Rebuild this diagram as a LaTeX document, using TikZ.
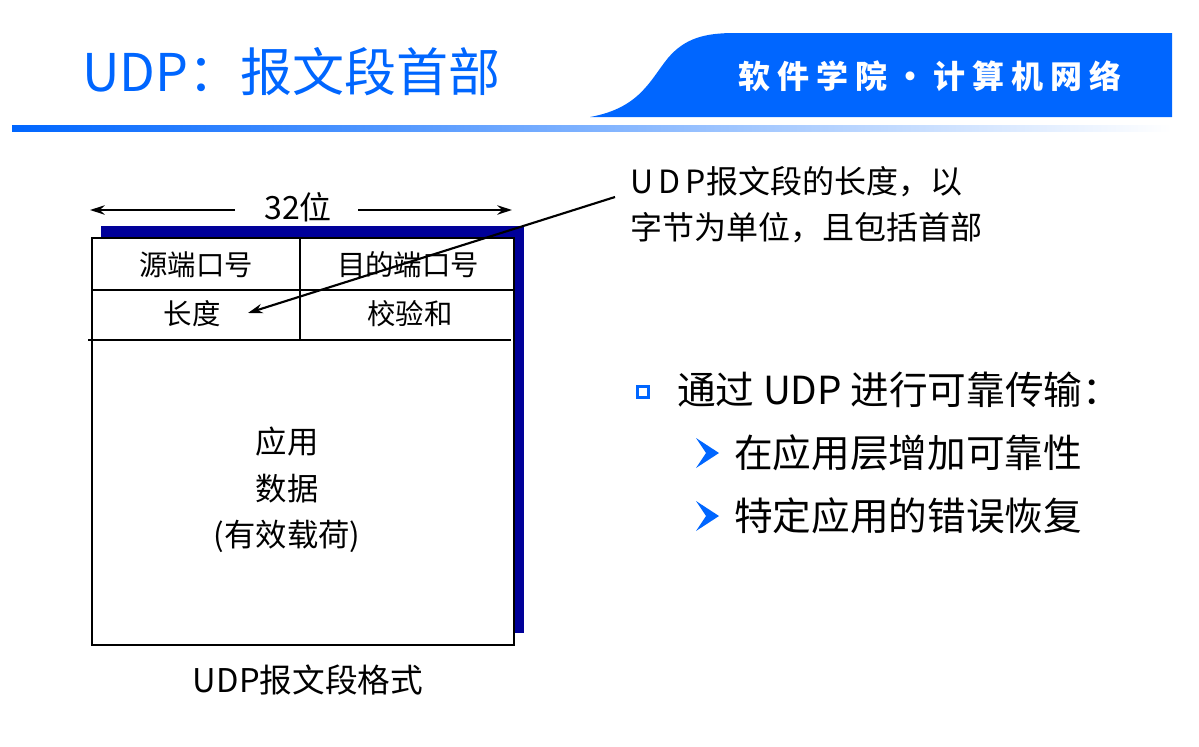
\documentclass[tikz,border=0pt]{standalone}
\usepackage{fontspec}
\setmainfont{Noto Sans CJK SC}
\newfontfamily\bannerfont[LetterSpace=22]{Noto Sans CJK SC}
\usetikzlibrary{arrows.meta}
\definecolor{hblue}{RGB}{0,102,255}
\definecolor{navyshadow}{RGB}{0,0,153}
\begin{document}
\begin{tikzpicture}[x=0.75pt,y=-0.75pt,
  every node/.style={inner sep=0pt,outer sep=0pt},
  tabline/.style={line width=1.8pt,draw=black},
  arr/.style={line width=1.6pt,-{Stealth[length=11pt,width=7pt]}},
  celltext/.style={font=\fontsize{21.3}{25}\selectfont},
  datatext/.style={font=\fontsize{23.5}{28}\selectfont},
  bullettext/.style={font=\fontsize{29}{34}\selectfont,anchor=west},
  annot/.style={font=\fontsize{24}{29}\selectfont,anchor=west}]
\useasboundingbox (0,0) rectangle (1199,746);
% header banner
\fill[hblue] (590,117) .. controls (640,108) and (650,80) .. (668,58)
  .. controls (685,38) and (705,33) .. (735,33) -- (1172,33) -- (1172,117) -- cycle;
\shade[left color=hblue,right color=white] (12,125) rectangle (1172,131);
\node[font=\fontsize{39}{44}\selectfont,text=hblue,anchor=west] (title) at (82,72) {UDP：报文段首部};
\node[font=\bannerfont\bfseries\fontsize{24}{28}\selectfont,text=white,anchor=west] (banner) at (738,76) {软件学院·计算机网络};
% format box
\fill[navyshadow] (101,226) rectangle (524,633);
\filldraw[fill=white,tabline] (92,238) rectangle (514,645);
\draw[tabline] (92,290) -- (514,290);
\draw[tabline] (88,340) -- (511,340);
\draw[tabline] (300,238) -- (300,340);
\node[celltext] (src) at (196,265) {源端口号};
\node[celltext] (dst) at (408,265) {目的端口号};
\node[celltext] (len) at (192,314) {长度};
\node[celltext] (chk) at (410,314) {校验和};
\node[datatext] (d1) at (287,442) {应用};
\node[datatext] (d2) at (287,489) {数据};
\node[datatext] (d3) at (287,536) {(有效载荷)};
\node[font=\fontsize{24.5}{29}\selectfont] (cap) at (308,680) {UDP报文段格式};
% 32 bits
\node[font=\fontsize{24}{29}\selectfont] (w32) at (298,207) {32位};
\coordinate (l1) at (235,210); \coordinate (l2) at (90,210);
\coordinate (r1) at (358,210); \coordinate (r2) at (512,210);
\draw[arr] (l1) -- (l2);
\draw[arr] (r1) -- (r2);
% annotation
\node[annot] (a1) at (630,182) {U\,D\,P报文段的长度，以};
\node[annot] (a2) at (630,228) {字节为单位，且包括首部};
\coordinate (as) at (615,197); \coordinate (ae) at (248,313);
\draw[arr] (as) -- (ae);
% bullets
\draw[hblue,line width=2.2pt] (637.5,386.5) rectangle (648.5,397.5);
\node[bullettext] (b1) at (677,390) {通过 UDP 进行可靠传输：};
\fill[hblue] (696,438) -- (719,453) -- (696,468) -- (706,453) -- cycle;
\node[bullettext] (b2) at (734,453) {在应用层增加可靠性};
\fill[hblue] (696,501) -- (719,516) -- (696,531) -- (706,516) -- cycle;
\node[bullettext] (b3) at (734,516) {特定应用的错误恢复};
\end{tikzpicture}
\end{document}
